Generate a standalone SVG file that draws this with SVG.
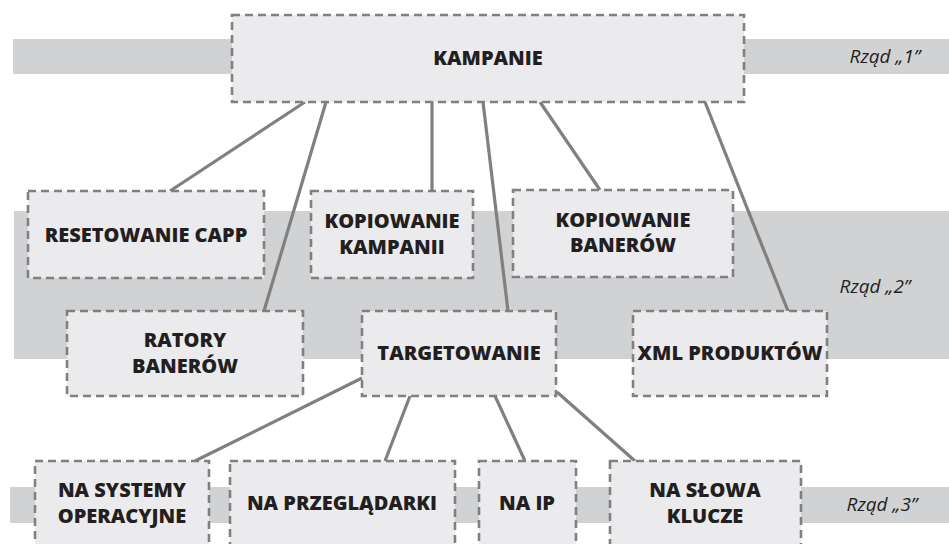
<svg xmlns="http://www.w3.org/2000/svg" width="949" height="544" viewBox="0 0 949 544">
  <style>
    .band { fill: #d1d2d4; }
    .box { fill: #ebebed; stroke: #808080; stroke-width: 2.6; stroke-dasharray: 8 5; }
    .lbl { font-family: "Open Sans", "Noto Sans", sans-serif; font-weight: 800; font-size: 20px; fill: #231f20; text-anchor: middle; }
    .row { font-family: "Open Sans", "Noto Sans", sans-serif; font-style: italic; font-size: 19px; fill: #231f20; text-anchor: middle; }
    .link { stroke: #808080; stroke-width: 3.2; fill: none; }
  </style>

  <!-- row bands -->
  <g id="bands">
    <rect class="band" x="13" y="39" width="936" height="35"/>
    <rect class="band" x="14" y="211" width="935" height="148"/>
    <rect class="band" x="10" y="487" width="939" height="36"/>
    <text class="row" x="885" y="63">Rząd „1”</text>
    <text class="row" x="875" y="293">Rząd „2”</text>
    <text class="row" x="882" y="511">Rząd „3”</text>
  </g>

  <!-- connectors -->
  <g id="connectors">
    <line class="link" x1="305" y1="102" x2="170" y2="191"/>
    <line class="link" x1="326" y1="102" x2="264" y2="311"/>
    <line class="link" x1="432" y1="102" x2="432" y2="191"/>
    <line class="link" x1="483" y1="102" x2="508" y2="311"/>
    <line class="link" x1="540" y1="102" x2="600" y2="190"/>
    <line class="link" x1="705" y1="102" x2="788" y2="311"/>
    <line class="link" x1="362" y1="378" x2="195" y2="461"/>
    <line class="link" x1="410" y1="396" x2="385" y2="461"/>
    <line class="link" x1="495" y1="396" x2="525" y2="461"/>
    <line class="link" x1="557" y1="392" x2="635" y2="461"/>
  </g>

  <g id="kampanie">
    <rect class="box" x="232" y="15" width="512" height="87"/>
    <text class="lbl" x="488" y="65">KAMPANIE</text>
  </g>

  <g id="resetowanie-capp">
    <rect class="box" x="28" y="191" width="236" height="87"/>
    <text class="lbl" x="146" y="242">RESETOWANIE CAPP</text>
  </g>

  <g id="kopiowanie-kampanii">
    <rect class="box" x="311" y="191" width="162" height="87"/>
    <text class="lbl" x="392" y="228">KOPIOWANIE</text>
    <text class="lbl" x="392" y="254">KAMPANII</text>
  </g>

  <g id="kopiowanie-banerow">
    <rect class="box" x="513" y="190" width="220" height="87"/>
    <text class="lbl" x="623" y="227">KOPIOWANIE</text>
    <text class="lbl" x="623" y="252">BANERÓW</text>
  </g>

  <g id="ratory-banerow">
    <rect class="box" x="67" y="311" width="236" height="85"/>
    <text class="lbl" x="185" y="347">RATORY</text>
    <text class="lbl" x="185" y="373">BANERÓW</text>
  </g>

  <g id="targetowanie">
    <rect class="box" x="362" y="311" width="194" height="85"/>
    <text class="lbl" x="459" y="360">TARGETOWANIE</text>
  </g>

  <g id="xml-produktow">
    <rect class="box" x="633" y="311" width="194" height="85"/>
    <text class="lbl" x="730" y="360">XML PRODUKTÓW</text>
  </g>

  <g id="na-systemy-operacyjne">
    <rect class="box" x="35" y="461" width="174" height="86"/>
    <text class="lbl" x="122" y="497">NA SYSTEMY</text>
    <text class="lbl" x="122" y="523">OPERACYJNE</text>
  </g>

  <g id="na-przegladarki">
    <rect class="box" x="230" y="461" width="225" height="86"/>
    <text class="lbl" x="342" y="510">NA PRZEGLĄDARKI</text>
  </g>

  <g id="na-ip">
    <rect class="box" x="479" y="461" width="97" height="86"/>
    <text class="lbl" x="527" y="510">NA IP</text>
  </g>

  <g id="na-slowa-klucze">
    <rect class="box" x="610" y="461" width="191" height="86"/>
    <text class="lbl" x="705" y="497">NA SŁOWA</text>
    <text class="lbl" x="705" y="523">KLUCZE</text>
  </g>
</svg>
